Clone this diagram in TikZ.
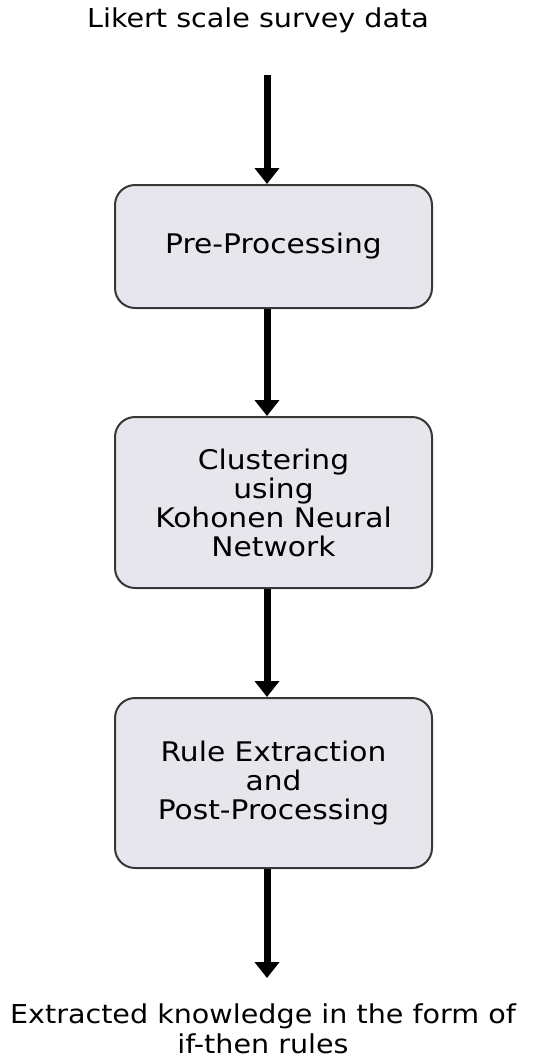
\documentclass[tikz,border=0pt]{standalone}
\usepackage{fontspec}
\setmainfont{DejaVu Sans}[FakeStretch=1.1]
\usetikzlibrary{arrows.meta}
\definecolor{boxgray}{HTML}{E6E6EC}
\definecolor{boxline}{HTML}{383838}
\tikzset{
  stage/.style={draw=boxline, line width=2pt, fill=boxgray, rounded corners=20pt, minimum width=317pt, align=center, font=\fontsize{27}{29}\selectfont},
  endtext/.style={align=center, font=\fontsize{26}{30}\selectfont, anchor=base},
  flow/.style={line width=7pt, -{Triangle[width=24pt,length=16pt]}}
}

\begin{document}
\begin{tikzpicture}[x=1pt,y=1pt]
\useasboundingbox (0,0) rectangle (555,-1063);
\node[endtext] at (258,-27) (src) {Likert scale survey data}; \node[stage, minimum height=123pt] at (273.5,-246.5) (pre) {Pre-Processing}; \node[stage, minimum height=171pt] at (273.5,-502.5) (clu) {Clustering\\using\\Kohonen Neural\\Network}; \node[stage, minimum height=170pt] at (273.5,-783) (rul) {Rule Extraction\\and\\Post-Processing}; \node[endtext] at (263,-1053) (out) {Extracted knowledge in the form of\\if-then rules};
\coordinate (a0) at (267,-75); \coordinate (a4) at (267,-978);

% arrows between the stages
\draw[flow] (a0) -- (a0 |- pre.north);
\draw[flow] (pre.south -| a0) -- (clu.north -| a0);
\draw[flow] (clu.south -| a0) -- (rul.north -| a0);
\draw[flow] (rul.south -| a0) -- (a4);
\end{tikzpicture}
\end{document}
